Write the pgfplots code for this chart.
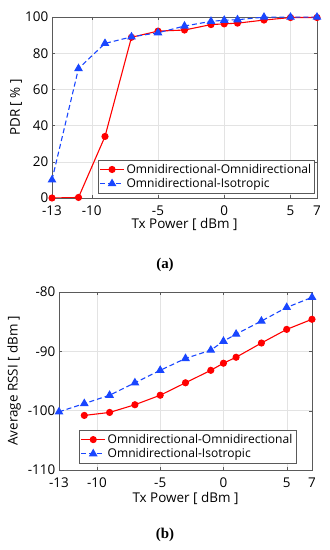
\documentclass[border=0pt]{standalone}
\usepackage{pgfplots}
\pgfplotsset{compat=1.18}
\usepackage{fontspec}
\setmainfont{Open Sans}
\newfontfamily\capfont{Liberation Serif}
\definecolor{myred}{RGB}{255,0,0}
\definecolor{myblue}{RGB}{25,70,255}
\definecolor{axgray}{RGB}{90,90,90}

\pgfplotstableread{
x y
-13 0
-11 0.3
-9 34
-7 88.8
-5 92.2
-3 92.8
-1 95.8
0 96.2
1 96.6
3 98.3
5 99.7
7 99.7
}\pdrOO
\pgfplotstableread{
x y
-13 10
-11 71.5
-9 85.4
-7 89
-5 91.3
-3 95
-1 97.6
0 98.2
1 98.5
3 99.9
5 99.9
7 99.9
}\pdrOI
\pgfplotstableread{
x y
-11 -100.8
-9 -100.3
-7 -99.0
-5 -97.4
-3 -95.3
-1 -93.2
0 -92.0
1 -91.0
3 -88.6
5 -86.3
7 -84.6
}\rssiOO
\pgfplotstableread{
x y
-13 -100.2
-11 -98.8
-9 -97.4
-7 -95.3
-5 -93.2
-3 -91.2
-1 -89.8
0 -88.3
1 -87.1
3 -84.9
5 -82.6
7 -80.9
}\rssiOI

\begin{document}
\fontsize{13.5}{16}\selectfont
\begin{tikzpicture}
\useasboundingbox (0bp,0bp) rectangle (330bp,550bp);
\pgfplotsset{common/.style={
  scale only axis,
  axis line style={draw=axgray},
  grid=major, grid style={draw=gray!22},
  tick style={draw=axgray},
  tick align=inside, major tick length=3bp,
  xmin=-13, xmax=7, xtick={-13,-10,-5,0,5,7},
  tick label style={font=\fontsize{13.5}{15}\selectfont},
  xticklabel style={yshift=-3bp},
  yticklabel style={xshift=1bp},
  label style={font=\fontsize{13.5}{15}\selectfont},
  /pgf/number format/assume math mode=true,
  legend cell align=left,
  legend style={font=\fontsize{12.1}{14}\selectfont, draw=axgray, fill=white, inner sep=1.5pt, row sep=-1pt},
  legend image code/.code={\draw[mark repeat=2,mark phase=2] plot coordinates {(0cm,0cm) (0.42cm,0cm) (0.84cm,0cm)};},
  oo/.style={myred, solid, line width=1.1pt, mark=*, mark size=3bp, mark options={solid, fill=myred}},
  oi/.style={myblue, dashed, line width=1.1pt, dash pattern=on 5bp off 3bp, mark=triangle*, mark size=4bp, mark options={solid, fill=myblue}},
}}
\begin{axis}[common,
  at={(52bp,352bp)}, anchor=south west, width=265bp, height=181bp,
  ymin=0, ymax=100, ytick={0,20,...,100},
  ylabel={PDR [ \% ]}, xlabel={Tx Power [ dBm ]},
  xlabel style={yshift=6bp}, ylabel style={yshift=-6bp},
  legend style={at={(0.992,0.028)}, anchor=south east},
]
\addplot[oo] table[x=x,y=y] {\pdrOO};
\addplot[oi] table[x=x,y=y] {\pdrOI};
\legend{Omnidirectional-Omnidirectional, Omnidirectional-Isotropic}
\end{axis}
\node[font=\capfont\bfseries\fontsize{15}{17}\selectfont] at (165bp,285bp) {(a)};

\begin{axis}[common,
  at={(59bp,80bp)}, anchor=south west, width=253bp, height=178bp,
  ymin=-110, ymax=-80, ytick={-110,-100,-90,-80},
  ylabel={Average RSSI [ dBm ]}, xlabel={Tx Power [ dBm ]},
  xlabel style={yshift=4bp}, ylabel style={yshift=-2bp},
  legend style={at={(0.937,0.039)}, anchor=south east},
]
\addplot[oo] table[x=x,y=y] {\rssiOO};
\addplot[oi] table[x=x,y=y] {\rssiOI};
\legend{Omnidirectional-Omnidirectional, Omnidirectional-Isotropic}
\end{axis}
\node[font=\capfont\bfseries\fontsize{15}{17}\selectfont] at (165bp,15bp) {(b)};
\end{tikzpicture}
\end{document}
